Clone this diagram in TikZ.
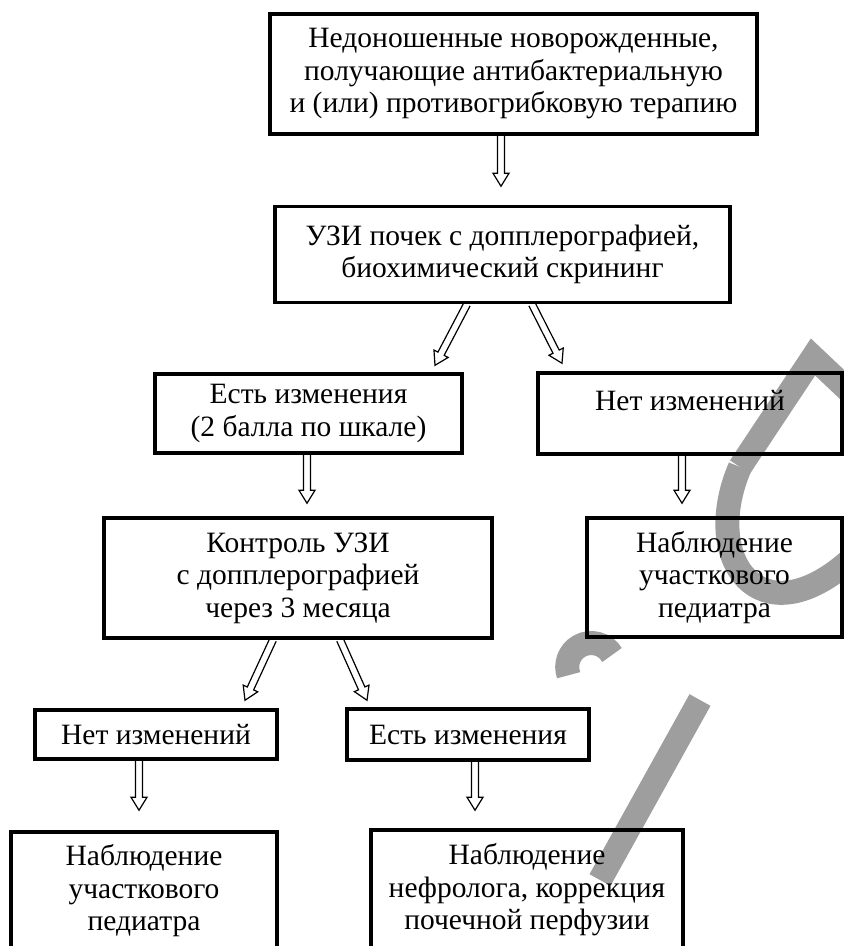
\documentclass[tikz,border=0pt]{standalone}
\usepackage{fontspec}
\setmainfont{Liberation Serif}
\usetikzlibrary{calc}
\definecolor{wmark}{gray}{0.62}
\tikzset{
  box/.style={draw, line width=3.5pt, inner sep=0pt, align=center,
    font=\fontsize{29.5pt}{32.5pt}\selectfont},
  harrow/.style={draw, line width=1.2pt, line join=miter},
  wm/.style={draw=wmark, line width=24pt, line cap=butt, line join=miter},
}
\newcommand\hollowarrow[2]{%
  \coordinate (ha-C) at ($(#2)!13pt!(#1)$);
  \draw[harrow] ($(#1)!3.5pt!90:(#2)$) -- ($(ha-C)!3.5pt!90:(#2)$) -- ($(ha-C)!8pt!90:(#2)$)
    -- (#2) -- ($(ha-C)!8pt!-90:(#2)$) -- ($(ha-C)!3.5pt!-90:(#2)$) -- ($(#1)!3.5pt!-90:(#2)$);
}
\begin{document}
\begin{tikzpicture}[x=1pt,y=-1pt]
\useasboundingbox (0,0) rectangle (844,946);
% watermark (approximate)
\begin{scope}
\clip (0,0) rectangle (844,946);
\draw[wm] (850,392) -- (813,357) -- (740,467);
\draw[wm] (740,467) .. controls (700,560) and (760,640) .. (850,560);
\draw[wm] (612,655) arc[start angle=30, end angle=200, radius=24pt];
\draw[wm] (700,700) -- (600,880);
\end{scope}
\node[box, minimum width=487pt, minimum height=120pt] (b1) at (513.5,74)
  {Недоношенные новорожденные,\\получающие антибактериальную\\и (или) противогрибковую терапию};
\node[box, minimum width=455pt, minimum height=96pt] (b2) at (502.5,254.5)
  {УЗИ почек с допплерографией,\\биохимический скрининг};
\node[box, minimum width=307pt, minimum height=79pt] (b3) at (308.5,413.5)
  {Есть изменения\\(2 балла по шкале)};
\node[box, minimum width=304pt, minimum height=81pt] (b4) at (690,413.5)
  {Нет изменений\\[-6pt]\mbox{}};
\node[box, minimum width=388pt, minimum height=120pt] (b5) at (298,578)
  {Контроль УЗИ\\с допплерографией\\через 3 месяца};
\node[box, minimum width=255pt, minimum height=119pt] (b6) at (714.5,577.5)
  {Наблюдение\\участкового\\педиатра};
\node[box, minimum width=242pt, minimum height=49pt] (b7) at (156,734.5)
  {Нет изменений};
\node[box, minimum width=242pt, minimum height=51pt] (b8) at (468,734.5)
  {Есть изменения};
\node[box, minimum width=266pt, minimum height=118pt] (b9) at (144,891)
  {Наблюдение\\участкового\\педиатра};
\node[box, minimum width=312pt, minimum height=120pt] (b10) at (527,890)
  {Наблюдение\\нефролога, коррекция\\почечной перфузии};

\coordinate (s1) at ($(b1.south)+(-12.5,0)$); \coordinate (t1) at ($(b2.north)+(-1.5,-18.5)$);
\coordinate (s2) at ($(b2.south)+(-35.5,0)$); \coordinate (t2) at ($(b3.north)+(126.5,-7)$);
\coordinate (s3) at ($(b2.south)+(29.5,0)$);  \coordinate (t3) at ($(b4.north)+(-128,-8)$);
\coordinate (s4) at ($(b3.south)+(-1.5,0)$);  \coordinate (t4) at ($(b5.north)+(9,-13)$);
\coordinate (s5) at ($(b4.south)+(-8,0)$);    \coordinate (t5) at ($(b6.north)+(-32.5,-13)$);
\coordinate (s6) at ($(b5.south)+(-25,0)$);   \coordinate (t6) at ($(b7.north)+(89,-8)$);
\coordinate (s7) at ($(b5.south)+(42,0)$);    \coordinate (t7) at ($(b8.north)+(-101,-7)$);
\coordinate (s8) at ($(b7.south)+(-17,0)$);   \coordinate (t8) at ($(b9.north)+(-5,-20)$);
\coordinate (s9) at ($(b8.south)+(7,0)$);     \coordinate (t9) at ($(b10.north)+(-52,-18)$);
\hollowarrow{s1}{t1}
\hollowarrow{s2}{t2}
\hollowarrow{s3}{t3}
\hollowarrow{s4}{t4}
\hollowarrow{s5}{t5}
\hollowarrow{s6}{t6}
\hollowarrow{s7}{t7}
\hollowarrow{s8}{t8}
\hollowarrow{s9}{t9}
\end{tikzpicture}
\end{document}
